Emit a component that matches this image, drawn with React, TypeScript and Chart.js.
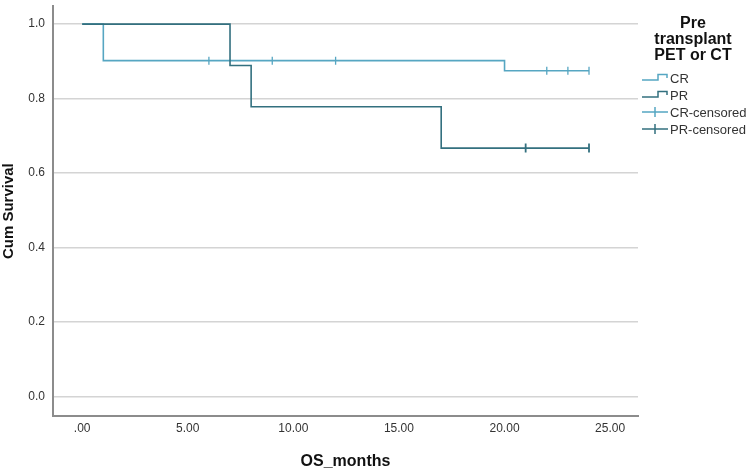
import React, { useEffect, useRef } from "react";
import { Chart, registerables } from "chart.js";

Chart.register(...registerables);

// ---- Data ----
const crTimes = [0, 1, 20, 24];
const crSurvival = [1.0, 0.902, 0.875, 0.875];
const prTimes = [0, 7, 8, 17, 24];
const prSurvival = [1.0, 0.889, 0.778, 0.667, 0.667];
const crCensorTimes = [6, 9, 12, 22, 23, 24];
const crCensorSurvival = [0.902, 0.902, 0.902, 0.875, 0.875, 0.875];
const prCensorTimes = [21, 24];
const prCensorSurvival = [0.667, 0.667];

const xTickValues = [0, 5, 10, 15, 20, 25];
const yTickValues = [0, 0.2, 0.4, 0.6, 0.8, 1.0];
const legendTitle = ["Pre", "transplant", "PET or CT"];
const seriesLabels = ["CR", "PR", "CR-censored", "PR-censored"];

const CR_COLOR = "#56a6c2";
const PR_COLOR = "#33707f";
const FONT = '"Liberation Sans", Arial, Helvetica, sans-serif';

const toPoints = (xs: number[], ys: number[]) => xs.map((x, i) => ({ x, y: ys[i] }));

const legendPlugin = {
  id: "kmLegend",
  afterDraw(chart: any) {
    const ctx = chart.ctx as CanvasRenderingContext2D;
    const left = chart.chartArea.right + 4;
    ctx.save();
    ctx.fillStyle = "#111";
    ctx.font = `bold 16px ${FONT}`;
    ctx.textAlign = "center";
    ctx.textBaseline = "alphabetic";
    const cx = left + 51;
    legendTitle.forEach((t, i) => ctx.fillText(t, cx, 28 + i * 16));

    ctx.font = `13px ${FONT}`;
    ctx.textAlign = "left";
    ctx.textBaseline = "middle";
    const colors = [CR_COLOR, PR_COLOR, CR_COLOR, PR_COLOR];
    seriesLabels.forEach((label, i) => {
      const y = 78 + i * 17;
      const x0 = left;
      ctx.strokeStyle = colors[i];
      ctx.lineWidth = 1.5;
      ctx.beginPath();
      if (i < 2) {
        ctx.moveTo(x0, y + 2);
        ctx.lineTo(x0 + 16, y + 2);
        ctx.lineTo(x0 + 16, y - 3.5);
        ctx.lineTo(x0 + 25, y - 3.5);
        ctx.lineTo(x0 + 25, y);
      } else {
        ctx.moveTo(x0, y);
        ctx.lineTo(x0 + 26, y);
        ctx.moveTo(x0 + 13, y - 5);
        ctx.lineTo(x0 + 13, y + 5);
      }
      ctx.stroke();
      ctx.fillStyle = "#333";
      ctx.fillText(label, x0 + 28, y + 1);
    });
    ctx.restore();
  },
};

export default function App() {
  const ref = useRef<HTMLCanvasElement | null>(null);

  useEffect(() => {
    if (!ref.current) return;
    const chart = new Chart(ref.current, {
      type: "line",
      data: {
        datasets: [
          {
            label: seriesLabels[0],
            data: toPoints(crTimes, crSurvival),
            borderColor: CR_COLOR,
            borderWidth: 1.6,
            stepped: true,
            pointRadius: 0,
            fill: false,
            order: 1,
          },
          {
            label: seriesLabels[1],
            data: toPoints(prTimes, prSurvival),
            borderColor: PR_COLOR,
            borderWidth: 1.6,
            stepped: true,
            pointRadius: 0,
            fill: false,
            order: 0,
          },
          {
            label: seriesLabels[2],
            data: toPoints(crCensorTimes, crCensorSurvival),
            borderColor: CR_COLOR,
            backgroundColor: CR_COLOR,
            showLine: false,
            pointStyle: "line",
            pointRotation: 90,
            pointRadius: 4,
            pointBorderWidth: 1.3,
            order: -1,
          },
          {
            label: seriesLabels[3],
            data: toPoints(prCensorTimes, prCensorSurvival),
            borderColor: PR_COLOR,
            backgroundColor: PR_COLOR,
            showLine: false,
            pointStyle: "line",
            pointRotation: 90,
            pointRadius: 4.5,
            pointBorderWidth: 1.8,
            order: -2,
          },
        ],
      },
      options: {
        animation: false,
        responsive: false,
        maintainAspectRatio: false,
        layout: { padding: { left: 0, right: 112, top: 1, bottom: 0 } },
        plugins: {
          legend: { display: false },
          tooltip: { enabled: false },
          title: { display: false },
        },
        scales: {
          x: {
            type: "linear",
            min: -1.383,
            max: 26.32,
            afterFit: (s: any) => {
              s.height = 57;
              s.paddingLeft = 0;
              s.paddingRight = 0;
            },
            afterBuildTicks: (s: any) => {
              s.ticks = xTickValues.map((v) => ({ value: v }));
            },
            ticks: {
              includeBounds: false,
              padding: 5,
              color: "#333",
              font: { family: FONT, size: 12 },
              maxRotation: 0,
              callback: (v: any) => (Number(v) === 0 ? ".00" : Number(v).toFixed(2)),
            },
            grid: { display: false, drawTicks: false },
            border: { display: true, color: "#8c8c8c", width: 2 },
            title: {
              display: true,
              text: "OS_months",
              color: "#111",
              font: { family: FONT, size: 16, weight: "bold" },
              padding: { top: 0, bottom: 2 },
            },
          },
          y: {
            type: "linear",
            min: -0.053,
            max: 1.048,
            afterFit: (s: any) => {
              s.width = 53;
              s.paddingTop = 0;
              s.paddingBottom = 0;
            },
            afterBuildTicks: (s: any) => {
              s.ticks = yTickValues.map((v) => ({ value: v }));
            },
            ticks: {
              includeBounds: false,
              padding: 8,
              color: "#333",
              font: { family: FONT, size: 12 },
              callback: (v: any) => Number(v).toFixed(1),
            },
            grid: { display: true, color: "#d4d4d4", lineWidth: 1.5, drawTicks: false },
            border: { display: true, color: "#8c8c8c", width: 2 },
            title: {
              display: true,
              text: "Cum Survival",
              color: "#111",
              font: { family: FONT, size: 15, weight: "bold" },
              padding: { top: 0, bottom: 0 },
            },
          },
        },
      },
      plugins: [legendPlugin],
    });
    return () => chart.destroy();
  }, []);

  return (
    <div style={{ position: "fixed", left: 0, top: 0, width: 750, height: 473, background: "#fff" }}>
      <canvas ref={ref} width={750} height={473} style={{ width: 750, height: 473, display: "block" }} />
    </div>
  );
}
